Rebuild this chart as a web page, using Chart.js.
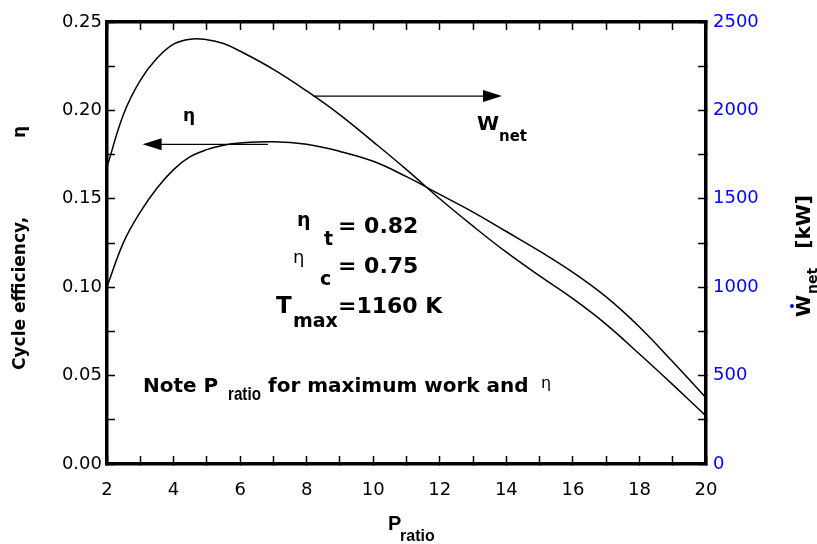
<!DOCTYPE html>
<html>
<head>
<meta charset="utf-8">
<script src="https://cdn.jsdelivr.net/npm/chart.js@4.4.0/dist/chart.umd.min.js"></script>
<style>
  html, body { margin: 0; padding: 0; background: #fff; }
  #wrap { width: 817px; height: 544px; }
</style>
</head>
<body>
<div id="wrap"><canvas id="chart" width="817" height="544"></canvas></div>
<script>
// values
const pRatio = [2, 2.5, 3, 3.5, 4, 4.5, 5, 5.5, 6, 7, 8, 9, 10, 11, 12, 13, 14, 15, 16, 17, 18, 19, 20];
const cycleEff = [0.1003, 0.1255, 0.1425, 0.156, 0.1665, 0.1738, 0.1778, 0.1803, 0.1816, 0.1823, 0.1808, 0.1768, 0.1712, 0.1625, 0.1525, 0.1425, 0.1315, 0.1204, 0.1084, 0.0945, 0.0775, 0.0578, 0.0374];
const netWork = [1680, 1980, 2170, 2295, 2375, 2403, 2400, 2378, 2335, 2232, 2110, 1975, 1822, 1665, 1500, 1345, 1198, 1064, 935, 790, 622, 449, 272];

const SANS = '"DejaVu Sans", sans-serif';
const ARIAL = '"Liberation Sans", Arial, sans-serif';
const BLUE = '#0000ff';

function arrow(c, x1, x2, y) {
  const dir = x2 > x1 ? 1 : -1;
  c.beginPath();
  c.moveTo(x1, y);
  c.lineTo(x2 - dir * 16, y);
  c.stroke();
  c.beginPath();
  c.moveTo(x2, y);
  c.lineTo(x2 - dir * 19, y - 6);
  c.lineTo(x2 - dir * 19, y + 6);
  c.closePath();
  c.fill();
}

function txt(c, s, x, y, font, color) {
  c.font = font;
  c.fillStyle = color || '#000';
  c.fillText(s, x, y);
  return x + c.measureText(s).width;
}

// condensed text
function ntxt(c, s, x, y, font) {
  c.save();
  c.font = font;
  c.fillStyle = '#000';
  c.translate(x, y);
  c.scale(0.8, 1);
  c.fillText(s, 0, 0);
  c.restore();
}

const annot = {
  id: 'annot',
  afterDraw(chart) {
    const c = chart.ctx;
    const x = chart.scales.x, y = chart.scales.y, y2 = chart.scales.y2;
    c.save();
    c.strokeStyle = '#000';
    c.fillStyle = '#000';
    c.lineWidth = 1.3;
    c.textBaseline = 'alphabetic';
    c.textAlign = 'left';

    // arrows pointing to each curve's axis
    arrow(c, x.getPixelForValue(6.84), x.getPixelForValue(3.07), y.getPixelForValue(0.1808));
    arrow(c, x.getPixelForValue(8.19), x.getPixelForValue(13.87), y2.getPixelForValue(2081));

    txt(c, 'η', 183, 121, 'bold 17px ' + SANS);
    txt(c, 'W', 477, 130, 'bold 20px ' + SANS);
    txt(c, 'net', 499, 141, 'bold 15px ' + SANS);

    // parameters block
    txt(c, 'η', 297, 226, 'bold 19px ' + SANS);
    txt(c, 't', 324, 245, 'bold 19px ' + SANS);
    txt(c, '= 0.82', 338, 233, 'bold 22px ' + SANS);
    txt(c, 'η', 293, 263, '18px ' + SANS);
    txt(c, 'c', 320, 285, 'bold 19px ' + SANS);
    txt(c, '= 0.75', 338, 273, 'bold 22px ' + SANS);
    txt(c, 'T', 276, 313, 'bold 23px ' + SANS);
    txt(c, 'max', 293, 327, 'bold 19px ' + SANS);
    txt(c, '=1160 K', 338, 313, 'bold 22px ' + SANS);

    // note line
    txt(c, 'Note P', 143, 392, 'bold 20px ' + SANS);
    ntxt(c, 'ratio', 228, 400, 'bold 19px ' + ARIAL);
    txt(c, 'for maximum work and', 268, 392, 'bold 20px ' + SANS);
    txt(c, 'η', 541, 388, '16px ' + SANS);

    // x axis title
    txt(c, 'P', 388, 530, 'bold 20px ' + ARIAL);
    txt(c, 'ratio', 400, 541, 'bold 16px ' + ARIAL);

    // left axis title
    c.save();
    c.translate(25, 370);
    c.rotate(-Math.PI / 2);
    txt(c, 'Cycle efficiency,', 0, 0, 'bold 17px ' + SANS);
    txt(c, 'η', 232, 0, 'bold 17px ' + SANS);
    c.restore();

    // right axis title
    c.save();
    c.translate(810, 317);
    c.rotate(-Math.PI / 2);
    const wEnd = txt(c, 'W', 0, 0, 'bold 20px ' + SANS);
    c.fillStyle = BLUE;
    c.beginPath();
    c.arc(wEnd / 2, -18, 2, 0, Math.PI * 2);
    c.fill();
    txt(c, 'net', wEnd + 1, 7, 'bold 14px ' + SANS);
    c.textAlign = 'right';
    txt(c, '[kW]', 122, 0, 'bold 20px ' + SANS);
    c.restore();

    c.restore();
  }
};

const frameGrid = { drawOnChartArea: false, tickLength: -8, tickColor: '#000', tickWidth: 1.5 };
const frameBorder = { color: '#000', width: 3.5 };
const tickFont = { family: SANS, size: 18 };

// fix the box sizes so the plot frame lands where the original has it
function fixBox(size) {
  return s => {
    if (s.isHorizontal()) s.height = size; else s.width = size;
    s.paddingTop = 0; s.paddingBottom = 0; s.paddingLeft = 0; s.paddingRight = 0;
  };
}

new Chart(document.getElementById('chart'), {
  type: 'line',
  data: {
    datasets: [
      {
        label: 'Cycle efficiency',
        data: pRatio.map((p, i) => ({ x: p, y: cycleEff[i] })),
        yAxisID: 'y',
        borderColor: '#000',
        borderWidth: 1.5,
        pointRadius: 0,
        tension: 0.4
      },
      {
        label: 'Net work',
        data: pRatio.map((p, i) => ({ x: p, y: netWork[i] })),
        yAxisID: 'y2',
        borderColor: '#000',
        borderWidth: 1.5,
        pointRadius: 0,
        tension: 0.4
      }
    ]
  },
  options: {
    responsive: false,
    animation: false,
    layout: { padding: { top: 22, left: 0, right: 0, bottom: 0 } },
    plugins: { legend: { display: false }, tooltip: { enabled: false } },
    scales: {
      x: {
        type: 'linear', position: 'bottom', min: 2, max: 20,
        afterFit: fixBox(80),
        ticks: {
          stepSize: 1, padding: 24, color: '#000', maxRotation: 0, autoSkip: false,
          font: tickFont,
          callback: v => (v % 2 === 0 ? v : '')
        },
        grid: frameGrid,
        border: frameBorder
      },
      xTop: {
        type: 'linear', position: 'top', min: 2, max: 20,
        afterFit: fixBox(0),
        ticks: { stepSize: 1, display: false },
        grid: frameGrid,
        border: frameBorder
      },
      y: {
        position: 'left', min: 0, max: 0.25,
        afterFit: fixBox(107),
        ticks: {
          stepSize: 0.025, padding: 13, color: '#000', autoSkip: false,
          font: tickFont,
          callback: (v, i) => (i % 2 === 0 ? v.toFixed(2) : '')
        },
        grid: frameGrid,
        border: frameBorder
      },
      y2: {
        position: 'right', min: 0, max: 2500,
        afterFit: fixBox(111),
        ticks: {
          stepSize: 250, padding: 15, color: BLUE, autoSkip: false,
          font: tickFont,
          callback: (v, i) => (i % 2 === 0 ? v : '')
        },
        grid: frameGrid,
        border: frameBorder
      }
    }
  },
  plugins: [annot]
});
</script>
</body>
</html>
